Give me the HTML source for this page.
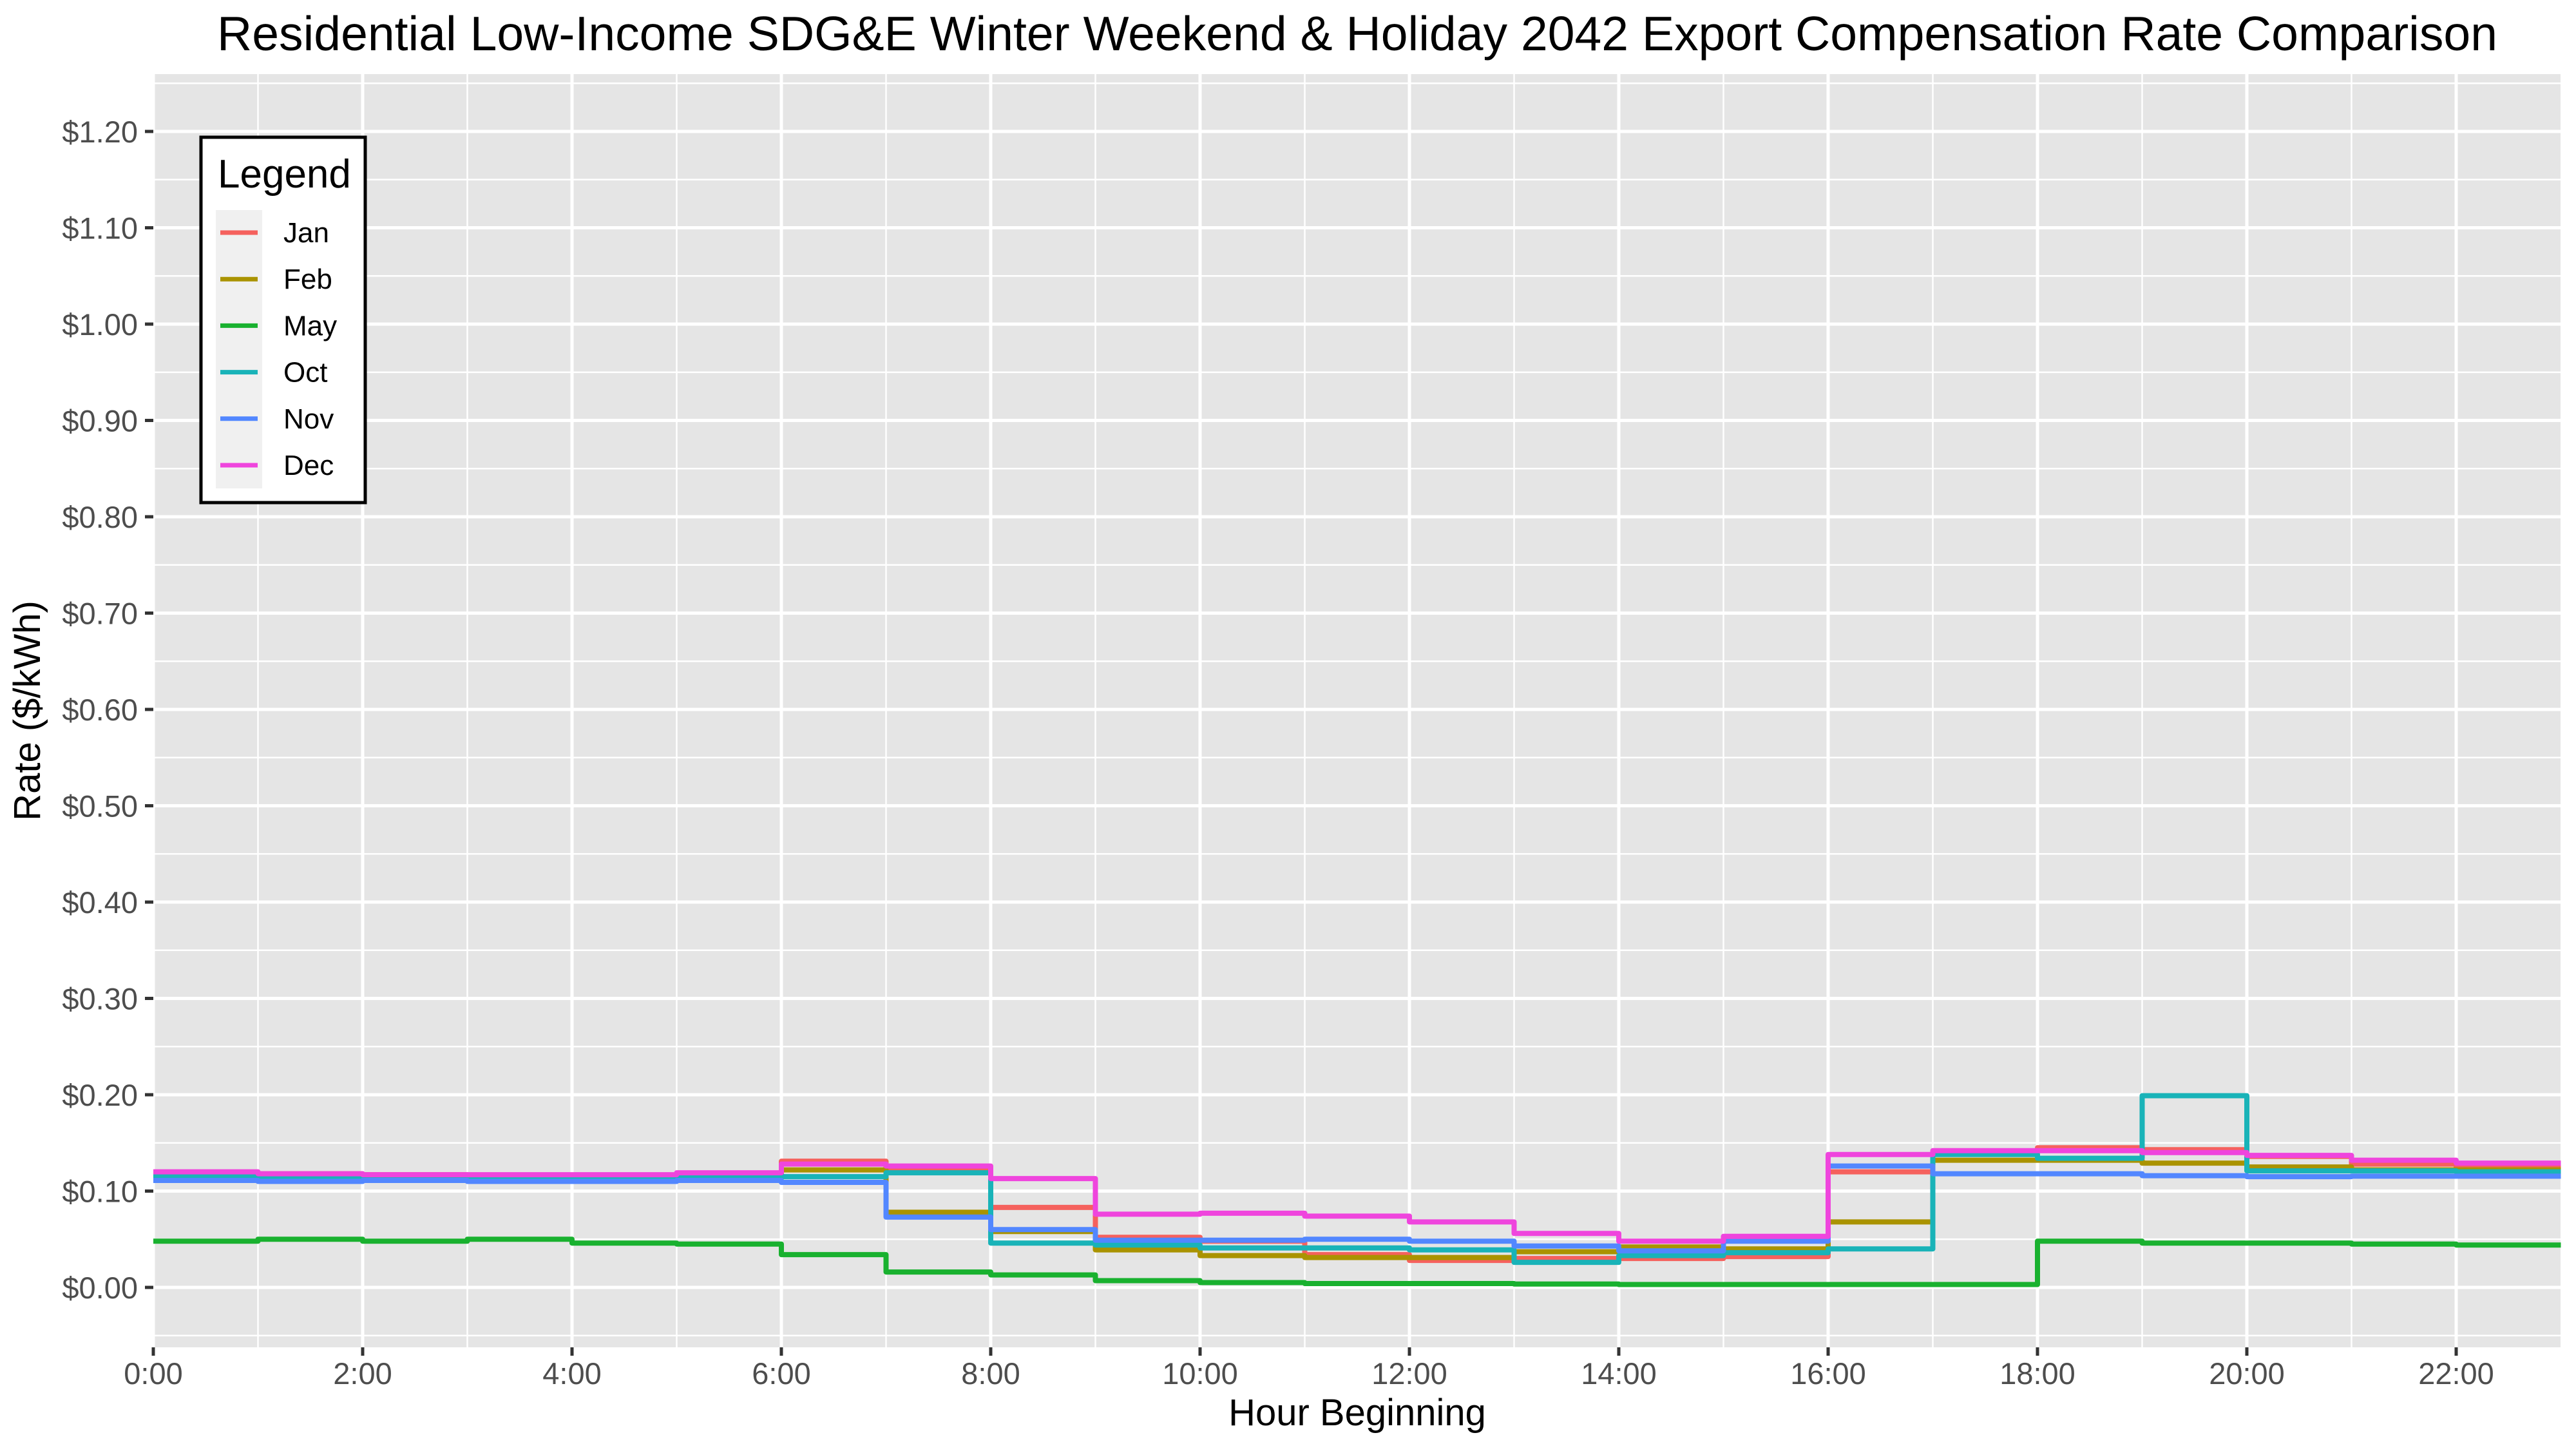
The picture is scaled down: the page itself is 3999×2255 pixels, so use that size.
<!DOCTYPE html>
<html><head><meta charset="utf-8"><style>
html,body{margin:0;padding:0;background:#fff;}
svg text{font-family:"Liberation Sans",Arial,sans-serif;}
</style></head><body>
<svg id="chart" width="3999" height="2250" viewBox="0 0 3999 2250" xmlns="http://www.w3.org/2000/svg">
<rect width="3999" height="2250" fill="#fff"/>
<text x="2107" y="78" font-size="75" text-anchor="middle" fill="#000" textLength="3540" lengthAdjust="spacingAndGlyphs">Residential Low-Income SDG&amp;E Winter Weekend &amp; Holiday 2042 Export Compensation Rate Comparison</text>
<rect x="238" y="115" width="3737" height="1976" fill="#e5e5e5"/>
<g id="grid"></g>
<g id="series"></g>
<g id="axes"></g>
<text x="2107" y="2212" font-size="58" text-anchor="middle" fill="#000">Hour Beginning</text>
<text transform="translate(62,1103) rotate(-90)" font-size="58" text-anchor="middle" fill="#000">Rate ($/kWh)</text>
<g>
<rect x="312" y="213" width="255" height="567" fill="#fff" stroke="#000" stroke-width="5"/>
<text x="338" y="291" font-size="62" fill="#000">Legend</text>
<rect x="335" y="326" width="72" height="432" fill="#f0f0f0"/>
<g id="legend-items"></g>
</g>
</svg>
<script>
const hours = [0,1,2,3,4,5,6,7,8,9,10,11,12,13,14,15,16,17,18,19,20,21,22,23];
const monthNames = ["Jan","Feb","May","Oct","Nov","Dec"];
const janValues = [0.119,0.118,0.117,0.116,0.116,0.118,0.131,0.124,0.083,0.052,0.048,0.034,0.028,0.030,0.030,0.032,0.120,0.140,0.145,0.143,0.136,0.128,0.125,0.125];
const febValues = [0.116,0.115,0.114,0.114,0.114,0.116,0.122,0.078,0.058,0.039,0.033,0.031,0.031,0.037,0.042,0.040,0.068,0.132,0.132,0.129,0.125,0.122,0.122,0.122];
const mayValues = [0.048,0.050,0.048,0.050,0.046,0.045,0.034,0.016,0.013,0.007,0.005,0.004,0.004,0.0035,0.003,0.003,0.003,0.003,0.048,0.046,0.046,0.045,0.044,0.044];
const octValues = [0.115,0.113,0.113,0.112,0.112,0.115,0.115,0.119,0.046,0.044,0.041,0.041,0.039,0.026,0.033,0.036,0.040,0.138,0.134,0.199,0.121,0.121,0.120,0.120];
const novValues = [0.111,0.110,0.111,0.110,0.110,0.111,0.109,0.073,0.060,0.049,0.049,0.050,0.048,0.043,0.038,0.048,0.126,0.118,0.118,0.116,0.115,0.1155,0.1155,0.1155];
const decValues = [0.120,0.118,0.117,0.117,0.117,0.119,0.128,0.126,0.113,0.076,0.077,0.074,0.068,0.056,0.048,0.053,0.138,0.142,0.142,0.140,0.137,0.132,0.129,0.129];
const yTickValues = [0,0.1,0.2,0.3,0.4,0.5,0.6,0.7,0.8,0.9,1.0,1.1,1.2];
const xTickHours = [0,2,4,6,8,10,12,14,16,18,20,22];
const xTickLabels = ["0:00","2:00","4:00","6:00","8:00","10:00","12:00","14:00","16:00","18:00","20:00","22:00"];

const colors = ["#F5615D","#AA9300","#19B12F","#19B3B8","#5287FF","#EF45DD"];
const allSeries = [janValues,febValues,mayValues,octValues,novValues,decValues];
const NS="http://www.w3.org/2000/svg";
const X0=238, PX=162.5, Y0=1998, PY=1495;
function xs(h){return X0+h*PX;}
function ys(v){return Y0-v*PY;}
function mk(tag,attrs,parent){const e=document.createElementNS(NS,tag);for(const k in attrs)e.setAttribute(k,attrs[k]);parent.appendChild(e);return e;}
const grid=document.getElementById('grid');
const L=238,R=3975,T=115,B=2091;
for(let v=-0.05;v<=1.26;v+=0.1){const y=ys(v);if(y>T&&y<B){const l=mk('line',{x1:L,x2:R,y1:y,y2:y,stroke:'#fff','stroke-width':2.5},grid);

}}
for(let h=1;h<23;h+=2){const l=mk('line',{x1:xs(h),x2:xs(h),y1:T,y2:B,stroke:'#fff','stroke-width':2.5},grid);

}
const axes=document.getElementById('axes');
yTickValues.forEach(v=>{const y=ys(v);
const l=mk('line',{x1:L,x2:R,y1:y,y2:y,stroke:'#fff','stroke-width':5},grid);


const t=mk('line',{x1:225,x2:238,y1:y,y2:y,stroke:'#333','stroke-width':5},axes);


const tx=mk('text',{x:214,y:y+17,'font-size':47,'text-anchor':'end',fill:'#4d4d4d'},axes);
tx.textContent='$'+v.toFixed(2);

});
xTickHours.forEach((h,i)=>{const x=xs(h);
const l=mk('line',{x1:x,x2:x,y1:T,y2:B,stroke:'#fff','stroke-width':5},grid);


const t=mk('line',{x1:x,x2:x,y1:2091,y2:2104,stroke:'#333','stroke-width':5},axes);


const tx=mk('text',{x:x,y:2148,'font-size':47,'text-anchor':'middle',fill:'#4d4d4d'},axes);
tx.textContent=xTickLabels[i];

});
const sg=document.getElementById('series');
allSeries.forEach((vals,si)=>{let d='M'+xs(hours[0])+','+ys(vals[0]);
for(let i=1;i<hours.length;i++){d+=' H'+xs(hours[i])+' V'+ys(vals[i]);}
const p=mk('path',{d:d,fill:'none',stroke:colors[si],'stroke-width':8,'stroke-linejoin':'round'},sg);

});
const li=document.getElementById('legend-items');
monthNames.forEach((m,i)=>{const y=361+i*72.2;
const l=mk('line',{x1:342,x2:400,y1:y,y2:y,stroke:colors[i],'stroke-width':7},li);


const t=mk('text',{x:440,y:y+15,'font-size':44,fill:'#000'},li);
t.textContent=m;

});
</script>
</body></html>
